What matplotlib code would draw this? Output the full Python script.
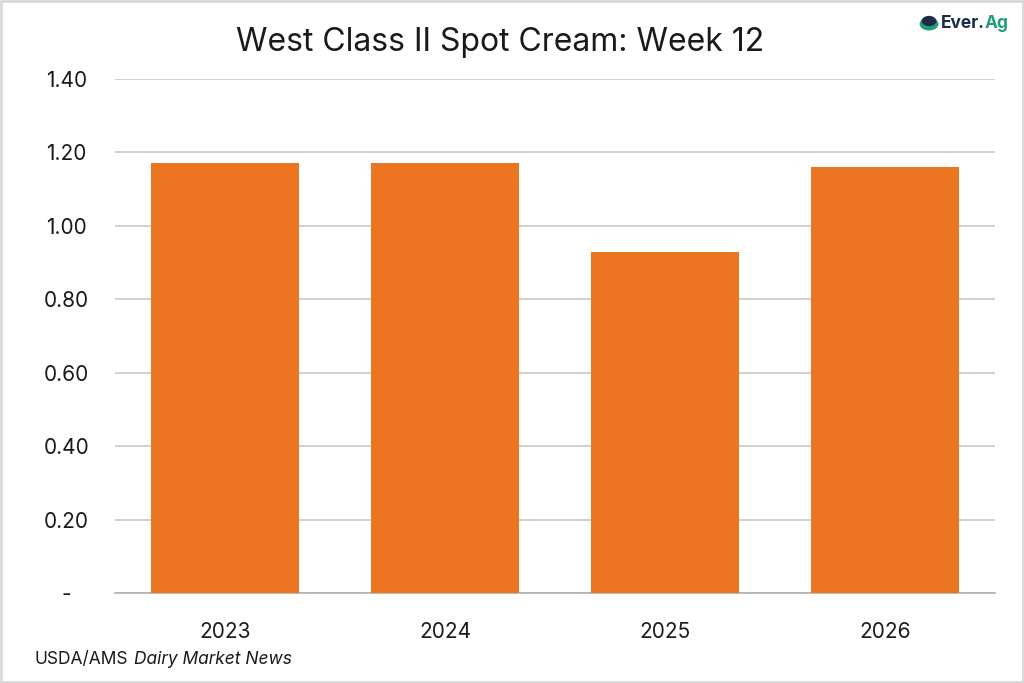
import matplotlib
matplotlib.use("Agg")
import matplotlib.pyplot as plt
import matplotlib.patches as mp

plt.rcParams['font.family'] = ['Inter', 'DejaVu Sans']

years = ['2023', '2024', '2025', '2026']
values = [1.17, 1.17, 0.93, 1.16]
yticks = [0.0, 0.2, 0.4, 0.6, 0.8, 1.0, 1.2, 1.4]
yticklabels = ['-', '0.20', '0.40', '0.60', '0.80', '1.00', '1.20', '1.40']

barcolour = '#EB7520'
gridcolour = '#c8c8c8'
textcolour = '#1a1a1a'

fig = plt.figure(figsize=(10.24, 6.83), dpi=100)
ax = fig.add_axes([115 / 1024, 1 - 593 / 683, 880 / 1024, 514 / 683])

ax.bar(range(len(years)), values, width=0.67, color=barcolour, zorder=3)
ax.set_xlim(-0.5, len(years) - 0.5)
ax.set_ylim(0, 1.4)
ax.set_yticks(yticks)
ax.set_yticklabels(yticklabels)
ax.set_xticks(range(len(years)))
ax.set_xticklabels(years)
ax.yaxis.grid(True, color=gridcolour, linewidth=1.2, zorder=0)
ax.tick_params(axis='both', length=0, labelsize=15, colors=textcolour)
ax.tick_params(axis='y', pad=35)
ax.tick_params(axis='x', pad=21)
for lab in ax.get_yticklabels():
    lab.set_horizontalalignment('center')
for side in ('top', 'right', 'left'):
    ax.spines[side].set_visible(False)
ax.spines['bottom'].set_color('#b0b0b0')
ax.spines['bottom'].set_linewidth(1.2)

fig.text(0.488, 1 - 42 / 683, 'West Class II Spot Cream: Week 12', ha='center', va='center',
         fontsize=23, color=textcolour)

src = fig.text(35 / 1024, 1 - 660 / 683, 'USDA/AMS', ha='left', va='center', fontsize=12.5,
               color=textcolour)
fig.canvas.draw()
fig.text(src.get_window_extent().x1 / 1024 + 5 / 1024, 1 - 660 / 683, 'Dairy Market News',
         ha='left', va='center', fontsize=12.5, style='italic', color=textcolour)

# logo
fig.patches.append(mp.Circle((929 / 1024, 1 - 24 / 683), 0.0085, transform=fig.transFigure,
                             color='#1f9e78'))
fig.patches.append(mp.Circle((929 / 1024, 1 - 21 / 683), 0.0065, transform=fig.transFigure,
                             color='#1c2b4a'))
ev = fig.text(941 / 1024, 1 - 24 / 683, 'Ever.', ha='left', va='center', fontsize=12.5,
              fontweight='bold', color='#1c2b4a')
fig.canvas.draw()
fig.text(ev.get_window_extent().x1 / 1024, 1 - 24 / 683, 'Ag', ha='left', va='center',
         fontsize=12.5, fontweight='bold', color='#1f9e78')

fig.patches.append(mp.Rectangle((0.001, 0.001), 0.998, 0.997, transform=fig.transFigure,
                                fill=False, edgecolor='#d9d9d9', linewidth=2))

fig.savefig('out.png', dpi=100, facecolor='white')
plt.close(fig)
